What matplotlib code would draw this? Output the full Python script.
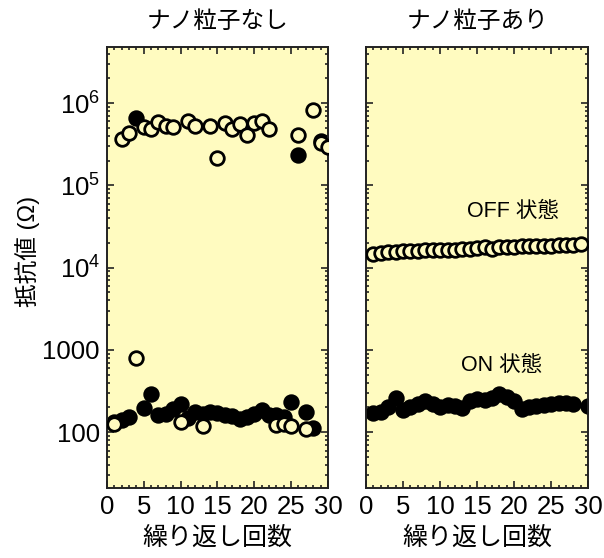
import numpy as np
import matplotlib
matplotlib.use('Agg')
import matplotlib.pyplot as plt
from matplotlib.ticker import FixedLocator, FixedFormatter, LogLocator, MultipleLocator, NullFormatter

plt.rcParams['font.family'] = ['Liberation Sans', 'Noto Sans CJK JP']
plt.rcParams['mathtext.fontset'] = 'custom'
plt.rcParams['mathtext.rm'] = 'Liberation Sans'
plt.rcParams['mathtext.it'] = 'Liberation Sans'

BG = '#fffbc0'

# cycle numbers
cycles = np.arange(1, 31)

# without nanoparticles (left panel)
left_off = [127, 3.66e5, 4.37e5, 800, 5.07e5, 4.9e5, 5.9e5, 5.3e5, 5.1e5, 133,
            6.0e5, 5.3e5, 119, 5.3e5, 2.15e5, 5.7e5, 4.9e5, 5.5e5, 4.1e5, 5.8e5,
            6.0e5, 4.8e5, 122, 127, 119, 4.1e5, 110, 8.2e5, 3.3e5, 2.95e5]
left_on = [135, 140, 152, 6.6e5, 197, 292, 164, 166, 192, 219,
           150, 174, 165, 177, 170, 162, 158, 145, 152, 165,
           184, 162, 160, 155, 230, 2.35e5, 178, 114, 3.5e5, 3.0e5]

# with nanoparticles (right panel)
right_off_cycles = np.arange(1, 30)
right_off = [1.45e4, 1.52e4, 1.55e4, 1.57e4, 1.58e4, 1.60e4, 1.61e4, 1.62e4, 1.63e4, 1.64e4,
             1.65e4, 1.66e4, 1.68e4, 1.70e4, 1.72e4, 1.80e4, 1.68e4, 1.78e4, 1.80e4, 1.80e4,
             1.82e4, 1.83e4, 1.84e4, 1.85e4, 1.85e4, 1.86e4, 1.88e4, 1.90e4, 1.95e4]
right_on_cycles = list(range(1, 29)) + [30]
right_on = [169, 178, 200, 258, 185, 204, 219, 240, 219, 200,
            214, 209, 195, 240, 251, 245, 263, 290, 271, 240,
            194, 204, 209, 214, 219, 225, 225, 219, 209]

yticks = [100, 1000, 1e4, 1e5, 1e6]
ytick_labels = ['100', '1000', '$10^4$', '$10^5$', '$10^6$']

fig = plt.figure(figsize=(6.04, 5.58), dpi=100)
ax1 = fig.add_axes([0.177, 0.1254, 0.366, 0.7904])
ax2 = fig.add_axes([0.606, 0.1254, 0.368, 0.7904], sharey=ax1)


def draw_points(ax, xs, ys, filled):
    for x, y in zip(xs, ys):
        ax.plot(x, y, 'o', ms=9.8, mew=2.0, mec='black',
                mfc='black' if filled else BG, zorder=2 if filled else 3)


draw_points(ax1, cycles, left_on, True)
draw_points(ax1, cycles, left_off, False)
draw_points(ax2, right_on_cycles, right_on, True)
draw_points(ax2, right_off_cycles, right_off, False)

for ax in (ax1, ax2):
    ax.set_facecolor(BG)
    ax.set_yscale('log')
    ax.set_ylim(21, 4.8e6)
    ax.set_xlim(0, 30)
    ax.xaxis.set_major_locator(MultipleLocator(5))
    ax.xaxis.set_minor_locator(MultipleLocator(1))
    ax.yaxis.set_major_locator(FixedLocator(yticks))
    ax.yaxis.set_minor_locator(LogLocator(base=10, subs=np.arange(2, 10)))
    ax.yaxis.set_minor_formatter(NullFormatter())
    ax.tick_params(which='both', direction='in', top=True, right=True, width=1.2, color='#222222')
    ax.tick_params(which='major', length=5, labelsize=18.5, pad=5)
    ax.tick_params(which='minor', length=2.5)
    for s in ax.spines.values():
        s.set_linewidth(1.4)
        s.set_color('#222222')
    ax.set_xlabel('繰り返し回数', fontsize=18, labelpad=5)

ax1.yaxis.set_major_formatter(FixedFormatter(ytick_labels))
plt.setp(ax2.get_yticklabels(), visible=False)

ax1.set_title('ナノ粒子なし', fontsize=17, pad=14)
ax2.set_title('ナノ粒子あり', fontsize=17, pad=14)

ax2.text(0.66, 0.628, 'OFF 状態', transform=ax2.transAxes, fontsize=15.5, ha='center', va='center')
ax2.text(0.61, 0.278, 'ON 状態', transform=ax2.transAxes, fontsize=15.5, ha='center', va='center')

fig.text(0.045, 0.55, '抵抗値 (Ω)', rotation=90, fontsize=17, ha='center', va='center')

fig.savefig('out.png', dpi=100)
